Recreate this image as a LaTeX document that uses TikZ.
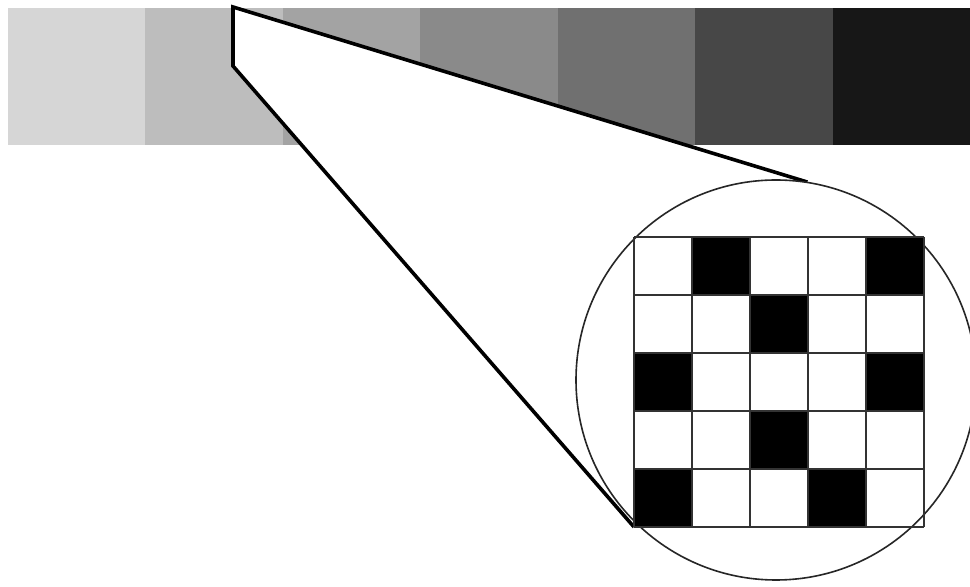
\documentclass[tikz,border=0pt]{standalone}
\begin{document}
\begin{tikzpicture}[x=0.5pt,y=-0.5pt,
	lens/.style={line width=1.8pt, line join=miter},
	cellgrid/.style={draw=black!80, line width=0.8pt}]
	\useasboundingbox (0,0) rectangle (970,587);
	
	% Gray scale bar
	\foreach \i/\g in {0/16,1/26,2/36,3/46,4/56,5/72,6/91}
		\fill[black!\g] ({8+\i*137.43},8) rectangle ({8+(\i+1)*137.43},145);
	
	% Magnifier
	\node[circle, minimum size=200pt, inner sep=0pt] (loupe) at (776,380) {};
	\coordinate (apex) at (233,7);
	\coordinate (knee) at (233,66);
	\coordinate (corner) at (634,527);
	\fill[white] (apex) -- (loupe.81) -- (corner) -- (knee) -- cycle;
	\draw[lens] (loupe.81) -- (apex) -- (knee) -- (corner);
	\draw[fill=white, line width=0.8pt, draw=black!85] (loupe.center) circle (100pt);
	
	% Pixel pattern
	\foreach \c/\r in {2/1,5/1,3/2,1/3,5/3,3/4,1/5,4/5}
		\fill ({634+(\c-1)*58},{237+(\r-1)*58}) rectangle ++(58,58);
	\foreach \k in {0,...,5} {
		\draw[cellgrid] ({634+\k*58},237) -- ({634+\k*58},527);
		\draw[cellgrid] (634,{237+\k*58}) -- (924,{237+\k*58});
	}
\end{tikzpicture}
\end{document}
